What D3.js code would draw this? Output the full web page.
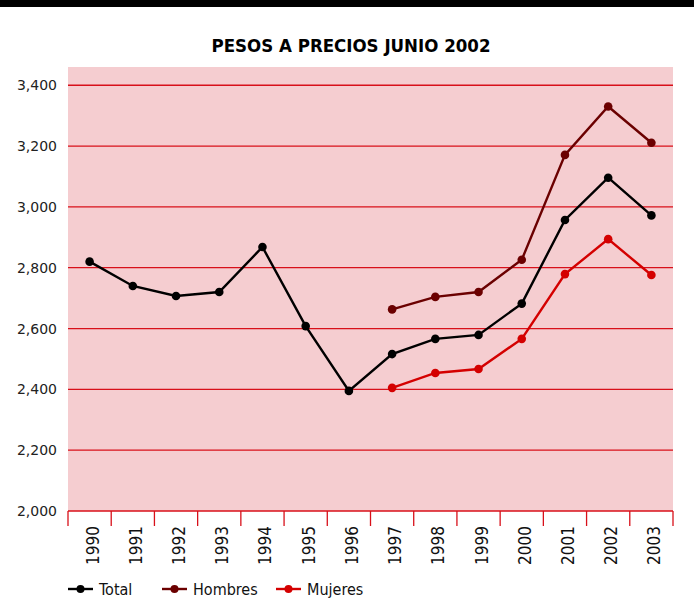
<!DOCTYPE html>
<html>
<head>
<meta charset="utf-8">
<script src="https://cdn.jsdelivr.net/npm/d3@7"></script>
<style>
  body { margin: 0; background: #fff; }
  svg { display: block; }
</style>
</head>
<body>
<svg id="chart" width="694" height="609"></svg>
<script>
// Data
const years = ["1990","1991","1992","1993","1994","1995","1996","1997","1998","1999","2000","2001","2002","2003"];
const total = [2820, 2740, 2707, 2720, 2868, 2608, 2395, 2516, 2566, 2579, 2682, 2957, 3096, 2972];
const hombres = [null, null, null, null, null, null, null, 2663, 2704, 2720, 2826, 3171, 3330, 3211];
const mujeres = [null, null, null, null, null, null, null, 2405, 2454, 2467, 2566, 2779, 2894, 2776];
const yTicks = [2000, 2200, 2400, 2600, 2800, 3000, 3200, 3400];

const series = [
  { name: "Total", values: total, color: "#000000" },
  { name: "Hombres", values: hombres, color: "#6b0000" },
  { name: "Mujeres", values: mujeres, color: "#d40000" }
];

const svg = d3.select("#chart");
const W = 694;
const plot = { left: 68, right: 673, top: 67, bottom: 511 };
const condensed = "'DejaVu Sans Condensed', 'Liberation Sans Narrow', sans-serif";

// black strip at the top
svg.append("rect").attr("x", 0).attr("y", 0).attr("width", W).attr("height", 7).attr("fill", "#000");

svg.append("text")
  .attr("x", 351).attr("y", 52)
  .attr("text-anchor", "middle")
  .style("font-family", condensed)
  .style("font-weight", "bold")
  .style("font-size", "18.5px")
  .text("PESOS A PRECIOS JUNIO 2002");

const x = d3.scaleBand().domain(years).range([plot.left, plot.right]);
const y = d3.scaleLinear().domain([2000, 3460]).range([plot.bottom, plot.top]);

svg.append("rect")
  .attr("x", plot.left).attr("y", plot.top)
  .attr("width", plot.right - plot.left).attr("height", plot.bottom - plot.top)
  .attr("fill", "#f5cdd0");

// gridlines
svg.append("g").selectAll("line")
  .data(yTicks.filter(d => d > 2000))
  .enter().append("line")
  .attr("x1", plot.left).attr("x2", plot.right)
  .attr("y1", d => y(d)).attr("y2", d => y(d))
  .attr("stroke", "#d8101a").attr("stroke-width", 1.3);

// y axis labels
const yAxis = svg.append("g")
  .attr("transform", `translate(${plot.left},0)`)
  .call(d3.axisLeft(y).tickValues(yTicks).tickFormat(d3.format(",")).tickSize(0).tickPadding(11));
yAxis.select(".domain").remove();
yAxis.selectAll("text")
  .style("font-family", "'DejaVu Sans', sans-serif")
  .style("font-size", "14px")
  .attr("fill", "#222");

// x axis
const xAxis = svg.append("g").attr("transform", `translate(0,${plot.bottom})`);
xAxis.append("line")
  .attr("x1", plot.left).attr("x2", plot.right)
  .attr("stroke", "#d8101a").attr("stroke-width", 1.3);
const bounds = years.map(d => x(d)).concat([plot.right]);
xAxis.selectAll("line.tick")
  .data(bounds)
  .enter().append("line")
  .attr("class", "tick")
  .attr("x1", d => d).attr("x2", d => d)
  .attr("y1", 0).attr("y2", 15)
  .attr("stroke", "#d8101a").attr("stroke-width", 1.3);
xAxis.selectAll("text")
  .data(years)
  .enter().append("text")
  .attr("transform", d => `translate(${x(d) + x.bandwidth() / 2 + 9},${15}) rotate(-90)`)
  .attr("text-anchor", "end")
  .style("font-family", condensed)
  .style("font-size", "17px")
  .attr("fill", "#111")
  .text(d => d);

// lines
const line = d3.line()
  .defined(d => d.v != null)
  .x(d => x(d.year) + x.bandwidth() / 2)
  .y(d => y(d.v));

series.forEach(s => {
  const pts = years.map((yr, i) => ({ year: yr, v: s.values[i] }));
  svg.append("path")
    .datum(pts)
    .attr("d", line)
    .attr("fill", "none")
    .attr("stroke", s.color)
    .attr("stroke-width", 2.4);
  svg.append("g").selectAll("circle")
    .data(pts.filter(d => d.v != null))
    .enter().append("circle")
    .attr("cx", d => x(d.year) + x.bandwidth() / 2)
    .attr("cy", d => y(d.v))
    .attr("r", 4.3)
    .attr("fill", s.color);
});

// legend
const legendX = [68, 162, 276];
const lg = svg.append("g").attr("transform", "translate(0,589)");
series.forEach((s, i) => {
  const g = lg.append("g").attr("transform", `translate(${legendX[i]},0)`);
  g.append("line").attr("x1", 0).attr("x2", 25).attr("stroke", s.color).attr("stroke-width", 2.4);
  g.append("circle").attr("cx", 12.5).attr("r", 4).attr("fill", s.color);
  g.append("text")
    .attr("x", 31).attr("y", 6)
    .style("font-family", condensed)
    .style("font-size", "16px")
    .attr("fill", "#111")
    .text(s.name);
});
</script>
</body>
</html>
